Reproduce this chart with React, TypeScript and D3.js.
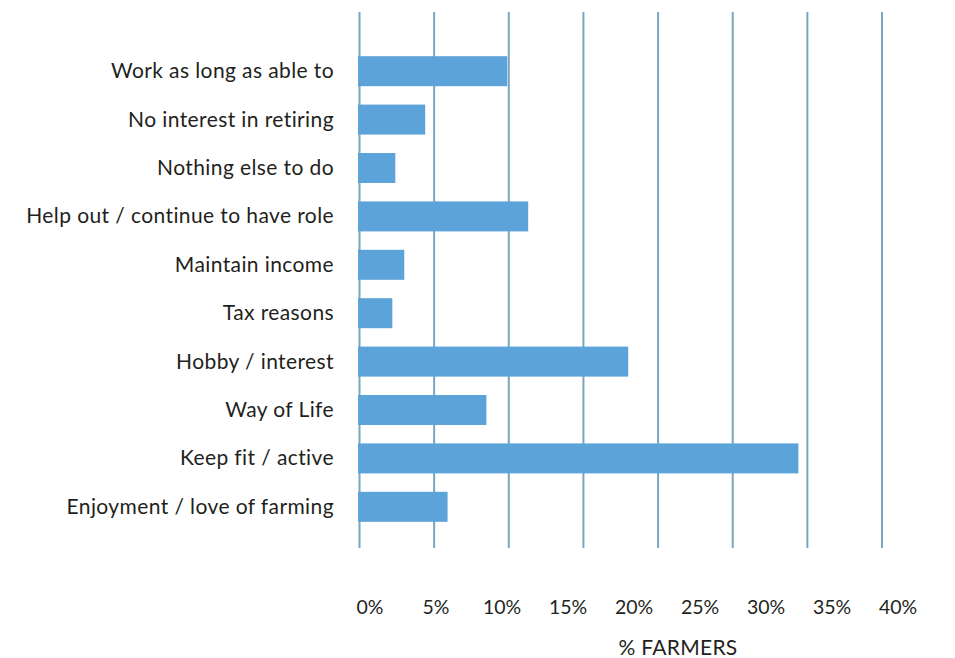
import React from "react";
import * as d3 from "d3";

const categories = [
  "Work as long as able to",
  "No interest in retiring",
  "Nothing else to do",
  "Help out / continue to have role",
  "Maintain income",
  "Tax reasons",
  "Hobby / interest",
  "Way of Life",
  "Keep fit / active",
  "Enjoyment / love of farming",
];
const values = [9.9, 4.4, 2.4, 11.3, 3.0, 2.2, 18.0, 8.5, 29.4, 5.9];
const gridValues = [0, 5, 10, 15, 20, 25, 30, 35];
const tickValues = [0, 5, 10, 15, 20, 25, 30, 35, 40];
const tickLabels = tickValues.map((v) => `${v}%`);
const axisTitle = "% FARMERS";

const W = 955;
const H = 658;
const FONT = "Lato, 'Open Sans', sans-serif";
const TEXT = "#231f20";
const BAR = "#5ba3d8";
const GRID = "#7aa7bf";

export default function App() {
  const x = d3.scaleLinear().domain([0, 35]).range([359.5, 882]);
  const xLabel = d3.scaleLinear().domain([0, 40]).range([370, 898]);
  const y = d3
    .scaleBand<string>()
    .domain(categories)
    .range([47, 531])
    .paddingInner(0.38)
    .paddingOuter(0.19);

  return (
    <svg
      width={W}
      height={H}
      viewBox={`0 0 ${W} ${H}`}
      style={{ position: "absolute", left: 0, top: 0, background: "#fff" }}
    >
      <rect x={0} y={0} width={W} height={H} fill="#fff" />
      {gridValues.map((g) => (
        <line
          key={g}
          x1={x(g)}
          x2={x(g)}
          y1={12}
          y2={548}
          stroke={GRID}
          strokeWidth={2}
        />
      ))}
      {categories.map((c, i) => (
        <rect
          key={c}
          x={x(0) - 1.5}
          y={y(c)}
          width={x(values[i]) - x(0) + 1.5}
          height={y.bandwidth()}
          fill={BAR}
        />
      ))}
      {categories.map((c) => (
        <text
          key={c}
          x={334}
          y={(y(c) as number) + y.bandwidth() / 2}
          dy="0.33em"
          textAnchor="end"
          fontFamily={FONT}
          fontSize={21}
          letterSpacing={0.4}
          fill={TEXT}
        >
          {c}
        </text>
      ))}
      {tickValues.map((t, i) => (
        <text
          key={t}
          x={xLabel(t)}
          y={614}
          textAnchor="middle"
          fontFamily={FONT}
          fontSize={19.5}
          fill={TEXT}
        >
          {tickLabels[i]}
        </text>
      ))}
      <text
        x={678}
        y={655}
        textAnchor="middle"
        fontFamily={FONT}
        fontSize={21}
        letterSpacing={0.3}
        fill={TEXT}
      >
        {axisTitle}
      </text>
    </svg>
  );
}
